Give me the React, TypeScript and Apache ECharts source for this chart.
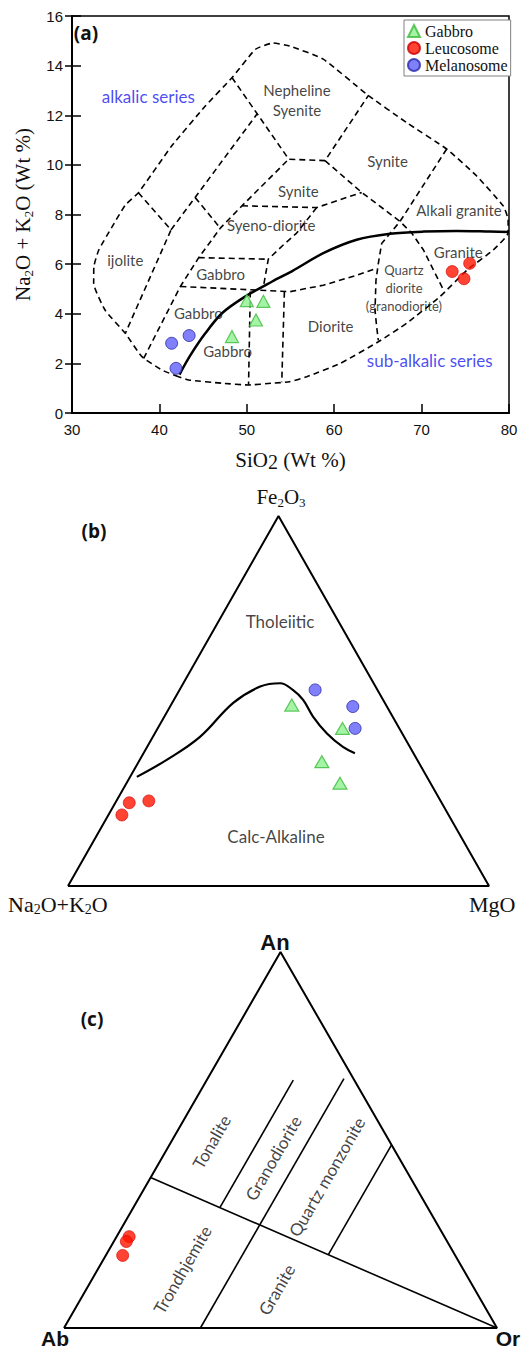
import React, { useEffect, useRef } from 'react';
import * as echarts from 'echarts';

// ---------- Panel (a): TAS (SiO2 vs Na2O+K2O) ----------
const tasXTicks = { min: 30, max: 80, step: 10 };
const tasYTicks = { min: 0, max: 16, step: 2 };

const tasGabbro = [[50.0, 4.53], [51.9, 4.5], [51.05, 3.75], [48.3, 3.08]];
const tasLeucosome = [[73.5, 5.7], [75.5, 6.03], [74.85, 5.41]];
const tasMelanosome = [[41.4, 2.81], [43.4, 3.12], [41.9, 1.8]];

const alkalineDivide = [
  [42.3, 1.55], [43.5, 2.3], [45.25, 3.21], [47.16, 4.02], [49.8, 4.69], [52.9, 5.3],
  [55.2, 5.72], [58.75, 6.44], [62.57, 6.98], [66.4, 7.22], [70.2, 7.31], [74, 7.34],
  [77.8, 7.31], [80, 7.29],
];

const tasOuter = [
  [42.2, 1.46], [40.3, 1.73], [38.0, 2.27], [36.1, 3.21], [33.8, 4.14], [32.48, 5.22],
  [32.5, 5.89], [33.05, 6.56], [34.58, 7.5], [36.1, 8.38], [37.6, 8.88], [41.4, 10.76],
  [45.25, 12.37], [48.3, 13.51], [51.0, 14.66], [53.0, 14.91], [54.9, 14.79], [58.75, 14.26],
  [63.7, 12.85], [68.3, 11.7], [72.9, 10.63], [76.3, 9.55], [79.35, 8.34], [79.9, 7.78],
  [79.9, 7.26], [78.2, 6.57], [75.2, 5.76], [72.1, 4.69], [68.3, 3.62], [65.05, 2.87],
  [60.7, 2.0], [56.85, 1.46], [54.9, 1.26], [52.9, 1.2], [50.2, 1.13], [47.2, 1.2],
  [43.35, 1.33], [42.2, 1.46],
];

const tasFieldLines = [
  [[37.6, 8.88], [41.33, 7.38], [36.1, 3.21]],
  [[41.33, 7.38], [51.17, 12.05]],
  [[44.1, 8.68], [46.97, 7.45]],
  [[38.2, 2.2], [42.4, 5.1], [44.5, 6.26], [46.97, 7.45], [49.45, 8.35], [54.8, 10.23]],
  [[48.3, 13.52], [54.8, 10.23], [58.95, 10.17], [63.9, 12.79]],
  [[58.95, 10.17], [63.15, 8.89], [67.53, 7.72], [68.87, 7.25], [70.2, 6.58], [71.35, 5.77], [72.5, 4.96]],
  [[72.87, 10.64], [67.53, 7.72], [65.43, 6.83], [65.05, 6.03], [64.78, 5.35], [64.67, 4.14], [64.86, 3.47], [65.05, 2.93]],
  [[49.45, 8.35], [58.0, 8.28], [63.15, 8.89]],
  [[58.0, 8.28], [55.7, 7.25], [54.2, 6.78], [52.46, 6.2], [51.9, 5.09]],
  [[44.5, 6.26], [52.46, 6.2]],
  [[42.4, 5.1], [54.94, 4.89], [58.75, 5.15], [62.57, 5.55], [64.6, 5.8]],
  [[54.3, 4.89], [54.0, 1.24]],
  [[50.4, 4.9], [50.2, 1.14]],
];

const tasFieldNames = [
  { name: 'Nepheline\nSyenite', at: [55.74, 12.61] },
  { name: 'Synite', at: [66.1, 10.15] },
  { name: 'Synite', at: [55.9, 8.95] },
  { name: 'Alkali granite', at: [74.28, 8.18] },
  { name: 'Syeno-diorite', at: [52.8, 7.57] },
  { name: 'ijolite', at: [36.1, 6.16] },
  { name: 'Gabbro', at: [47.0, 5.6] },
  { name: 'Gabbro', at: [44.45, 4.03] },
  { name: 'Gabbro', at: [47.8, 2.5] },
  { name: 'Diorite', at: [59.6, 3.51] },
  { name: 'Granite', at: [74.2, 6.47] },
];
const tasSmallNames = [{ name: 'Quartz\ndiorite\n(granodiorite)', at: [67.98, 5.03] }];
const tasSeriesNames = [
  { name: 'alkalic series', at: [38.73, 12.75] },
  { name: 'sub-alkalic series', at: [70.93, 2.13] },
];

// ---------- Panel (b): AFM  [Na2O+K2O, Fe2O3, MgO] ----------
const afmGabbro = [[22.4, 48.9, 28.7], [13.5, 42.6, 43.9], [22.9, 33.6, 43.5], [21.5, 27.8, 50.7]];
const afmLeucosome = [[74.2, 22.5, 3.3], [69.3, 23.0, 7.7], [77.6, 19.2, 3.2]];
const afmMelanosome = [[14.8, 53.0, 32.2], [8.1, 48.5, 43.4], [10.5, 42.6, 46.9]];
const afmDivide = [
  [68.9, 29.5, 1.6], [59.5, 34.1, 6.4], [48.5, 40.3, 11.2], [36.0, 49.5, 14.5], [27.4, 53.9, 18.7],
  [22.2, 54.8, 23.0], [20.1, 53.0, 26.9], [19.0, 50.3, 30.7], [18.9, 45.8, 35.3], [17.9, 41.3, 40.8],
  [15.9, 37.6, 46.5], [13.9, 35.9, 50.2],
];
const afmFieldNames = [
  { name: 'Tholeiitic', at: [13.94, 71.4, 14.66] },
  { name: 'Calc-Alkaline', at: [43.97, 13.25, 42.78] },
];

// ---------- Panel (c): [Ab, An, Or] ----------
const abanorLeucosome = [[72.8, 24.3, 2.9], [74.1, 23.0, 2.9], [76.8, 19.3, 3.9]];
const abanorLines = [
  [[60, 40, 0], [0, 0, 100]],
  [[48, 32, 20], [14.1, 65.9, 20]],
  [[68.5, 0, 31.5], [2.2, 66.3, 31.5]],
  [[29.2, 19.5, 51.3], [0, 48.7, 51.3]],
];
const abanorFieldNames = [
  { name: 'Tonalite', at: [41.2, 49.5, 9.3] },
  { name: 'Granodiorite', at: [29.1, 45.2, 25.7] },
  { name: 'Quartz monzonite', at: [19.2, 40.2, 40.6] },
  { name: 'Trondhjemite', at: [64.9, 15.5, 19.6] },
  { name: 'Granite', at: [45.8, 10.2, 44.0] },
];

const triangleCorners = [[100, 0, 0], [0, 100, 0], [0, 0, 100], [100, 0, 0]];

const H = Math.sqrt(3) / 2;
function tern(p: number[]): number[] {
  const s = p[0] + p[1] + p[2];
  const top = (p[1] / s) * 100;
  const right = (p[2] / s) * 100;
  return [right + top / 2, top * H];
}

const C_GREEN = '#8ff08f';
const C_GREEN_B = '#3cba3c';
const C_RED = '#ff1500';
const C_RED_B = '#d00000';
const C_BLUE = '#6060fa';
const C_BLUE_B = '#2a2aa8';

const SANS = 'Lato';
const SERIF = 'Liberation Serif';

export default function App() {
  const ref = useRef<HTMLDivElement>(null);
  useEffect(() => {
    if (!ref.current) return;
    const chart = echarts.init(ref.current, undefined, { renderer: 'svg' });

    const dashed = (pts: number[][], xi: number, yi: number, smooth = 0) => ({
      type: 'line', xAxisIndex: xi, yAxisIndex: yi, data: pts, symbol: 'none', smooth,
      silent: true, z: 2, lineStyle: { color: '#000', width: 1.6, type: [6, 4] },
    });
    const solid = (pts: number[][], xi: number, yi: number, width: number, smooth = 0) => ({
      type: 'line', xAxisIndex: xi, yAxisIndex: yi, data: pts, symbol: 'none', smooth,
      silent: true, z: 3, lineStyle: { color: '#000', width },
    });
    const labels = (items: { name: string; at: number[] }[], xi: number, yi: number, conv: (p: number[]) => number[], style: any, rotate = 0) => ({
      type: 'scatter', xAxisIndex: xi, yAxisIndex: yi, symbolSize: 1, silent: true, z: 6,
      itemStyle: { color: 'rgba(0,0,0,0)' },
      label: { show: true, position: 'inside', formatter: '{b}', rotate, ...style },
      data: items.map((d) => ({ name: d.name, value: conv(d.at) })),
    });
    const id = (p: number[]) => p;

    const gabbroStyle = { color: C_GREEN, borderColor: C_GREEN_B, borderWidth: 1.2 };
    const leucoStyle = { color: C_RED, borderColor: C_RED_B, borderWidth: 0.8 };
    const melanoStyle = { color: C_BLUE, borderColor: C_BLUE_B, borderWidth: 1 };

    const subRich = (size: number) => ({
      s: { fontFamily: SERIF, fontSize: size, verticalAlign: 'bottom', lineHeight: Math.round(size * 0.9), color: '#111' },
      n: { fontFamily: SERIF, fontSize: 21, color: '#111', lineHeight: 24 },
    });

    const tickAxis = (gi: number) => ({ type: 'value', gridIndex: gi, min: 0, max: 100, show: false });
    const tickAxisY = (gi: number) => ({ type: 'value', gridIndex: gi, min: 0, max: 100 * H, show: false });
    const txt = (x: number, y: number, text: string, style: any) => ({
      type: 'text', x, y, style: { text, fill: '#111', align: 'center', verticalAlign: 'middle', ...style },
    });

    const option: any = {
      animation: false,
      backgroundColor: '#fff',
      grid: [
        { left: 72, top: 16, width: 437, height: 397, show: true, borderColor: '#000', borderWidth: 1.5, backgroundColor: 'transparent' },
        { left: 68, top: 516, width: 421, height: 370 },
        { left: 64, top: 952, width: 433, height: 376 },
      ],
      xAxis: [
        {
          type: 'value', gridIndex: 0, min: tasXTicks.min, max: tasXTicks.max, interval: tasXTicks.step,
          axisLine: { show: true, onZero: false, lineStyle: { color: '#000', width: 2 } },
          axisTick: { show: true, inside: true, length: 9, lineStyle: { color: '#000', width: 1.5 } },
          axisLabel: { color: '#111', fontSize: 15, fontFamily: 'Liberation Sans', margin: 9 },
          splitLine: { show: false },
          name: '{n|SiO}{s|2}{n| (Wt %)}', nameLocation: 'middle', nameGap: 35,
          nameTextStyle: { fontFamily: SERIF, fontSize: 21, color: '#111', lineHeight: 24, rich: { ...subRich(20), s: { fontFamily: SERIF, fontSize: 20, color: '#111', verticalAlign: 'bottom', lineHeight: 20 } } },
        },
        tickAxis(1),
        tickAxis(2),
      ],
      yAxis: [
        {
          type: 'value', gridIndex: 0, min: tasYTicks.min, max: tasYTicks.max, interval: tasYTicks.step,
          axisLine: { show: true, onZero: false, lineStyle: { color: '#000', width: 2 } },
          axisTick: { show: true, inside: false, length: 7, lineStyle: { color: '#000', width: 1.5 } },
          axisLabel: { color: '#111', fontSize: 15, fontFamily: 'Liberation Sans', margin: 9 },
          splitLine: { show: false },
          name: '{n|Na}{s|2}{n|O + K}{s|2}{n|O (Wt %)}', nameLocation: 'middle', nameGap: 34, nameRotate: 90,
          nameTextStyle: { fontFamily: SERIF, fontSize: 21, color: '#111', lineHeight: 24, rich: subRich(13) },
        },
        {
          type: 'value', gridIndex: 0, min: tasYTicks.min, max: tasYTicks.max, interval: tasYTicks.step, position: 'left',
          axisLine: { show: false },
          axisTick: { show: true, inside: true, length: 9, lineStyle: { color: '#000', width: 1.5 } },
          axisLabel: { show: false }, splitLine: { show: false },
        },
        tickAxisY(1),
        tickAxisY(2),
      ],
      legend: {
        orient: 'vertical', left: 404, top: 20,
        data: ['Gabbro', 'Leucosome', 'Melanosome'],
        backgroundColor: '#fff', borderColor: '#808080', borderWidth: 1,
        padding: [3, 3, 3, 3], itemGap: 1, itemWidth: 12, itemHeight: 12,
        textStyle: { fontFamily: SERIF, fontSize: 16, color: '#111', lineHeight: 16 },
      },
      graphic: [
        txt(86, 33, '(a)', { fontFamily: 'Open Sans', fontWeight: 'bold', fontSize: 19 }),
        txt(94, 531, '(b)', { fontFamily: 'Open Sans', fontWeight: 'bold', fontSize: 19 }),
        txt(92, 1019, '(c)', { fontFamily: 'Open Sans', fontWeight: 'bold', fontSize: 19 }),
        txt(281, 497, '{n|Fe}{s|2}{n|O}{s|3}', { fontFamily: SERIF, fontSize: 21, lineHeight: 24, rich: subRich(13) }),
        txt(8, 904, '{n|Na}{s|2}{n|O+K}{s|2}{n|O}', { fontFamily: SERIF, fontSize: 22, lineHeight: 24, align: 'left', rich: { s: { fontFamily: SERIF, fontSize: 14, verticalAlign: 'bottom', lineHeight: 13, color: '#111' }, n: { fontFamily: SERIF, fontSize: 22, lineHeight: 24, color: '#111' } } }),
        txt(469, 904, 'MgO', { fontFamily: SERIF, fontSize: 22, align: 'left' }),
        txt(275, 942, 'An', { fontFamily: 'Liberation Sans', fontWeight: 'bold', fontSize: 22 }),
        txt(55, 1338, 'Ab', { fontFamily: 'Liberation Sans', fontWeight: 'bold', fontSize: 21 }),
        txt(508, 1338, 'Or', { fontFamily: 'Liberation Sans', fontWeight: 'bold', fontSize: 21 }),
      ],
      series: [
        // panel (a)
        dashed(tasOuter, 0, 0, 0.15),
        ...tasFieldLines.map((l) => dashed(l, 0, 0)),
        solid(alkalineDivide, 0, 0, 2.5, 0.3),
        labels(tasFieldNames, 0, 0, id, { fontFamily: SANS, fontSize: 15, color: '#111', lineHeight: 20 }),
        labels(tasSmallNames, 0, 0, id, { fontFamily: SANS, fontSize: 13, color: '#111', lineHeight: 18 }),
        labels(tasSeriesNames, 0, 0, id, { fontFamily: SANS, fontSize: 17, color: '#1a1af0' }),
        { name: 'Gabbro', type: 'scatter', xAxisIndex: 0, yAxisIndex: 0, symbol: 'triangle', symbolSize: [13, 12], itemStyle: gabbroStyle, z: 5, data: tasGabbro },
        { name: 'Leucosome', type: 'scatter', xAxisIndex: 0, yAxisIndex: 0, symbol: 'circle', symbolSize: 12, itemStyle: leucoStyle, z: 5, data: tasLeucosome },
        { name: 'Melanosome', type: 'scatter', xAxisIndex: 0, yAxisIndex: 0, symbol: 'circle', symbolSize: 12, itemStyle: melanoStyle, z: 5, data: tasMelanosome },

        // panel (b)
        solid(triangleCorners.map(tern), 1, 2, 2),
        solid(afmDivide.map(tern), 1, 2, 2.2, 0.4),
        labels(afmFieldNames, 1, 2, tern, { fontFamily: SANS, fontSize: 17, color: '#111' }),
        { name: 'Gabbro', type: 'scatter', xAxisIndex: 1, yAxisIndex: 2, symbol: 'triangle', symbolSize: [14, 12], itemStyle: gabbroStyle, z: 5, data: afmGabbro.map(tern) },
        { name: 'Leucosome', type: 'scatter', xAxisIndex: 1, yAxisIndex: 2, symbol: 'circle', symbolSize: 12, itemStyle: leucoStyle, z: 5, data: afmLeucosome.map(tern) },
        { name: 'Melanosome', type: 'scatter', xAxisIndex: 1, yAxisIndex: 2, symbol: 'circle', symbolSize: 12, itemStyle: melanoStyle, z: 5, data: afmMelanosome.map(tern) },

        // panel (c)
        solid(triangleCorners.map(tern), 2, 3, 2),
        ...abanorLines.map((l) => solid(l.map(tern), 2, 3, 1.6)),
        labels(abanorFieldNames, 2, 3, tern, { fontFamily: SANS, fontSize: 17, color: '#111' }, 60),
        { name: 'Leucosome', type: 'scatter', xAxisIndex: 2, yAxisIndex: 3, symbol: 'circle', symbolSize: 12, itemStyle: leucoStyle, z: 5, data: abanorLeucosome.map(tern) },
      ],
    };
    chart.setOption(option);
    return () => chart.dispose();
  }, []);

  return <div ref={ref} style={{ position: 'absolute', left: 0, top: 0, width: 528, height: 1351, background: '#fff' }} />;
}
